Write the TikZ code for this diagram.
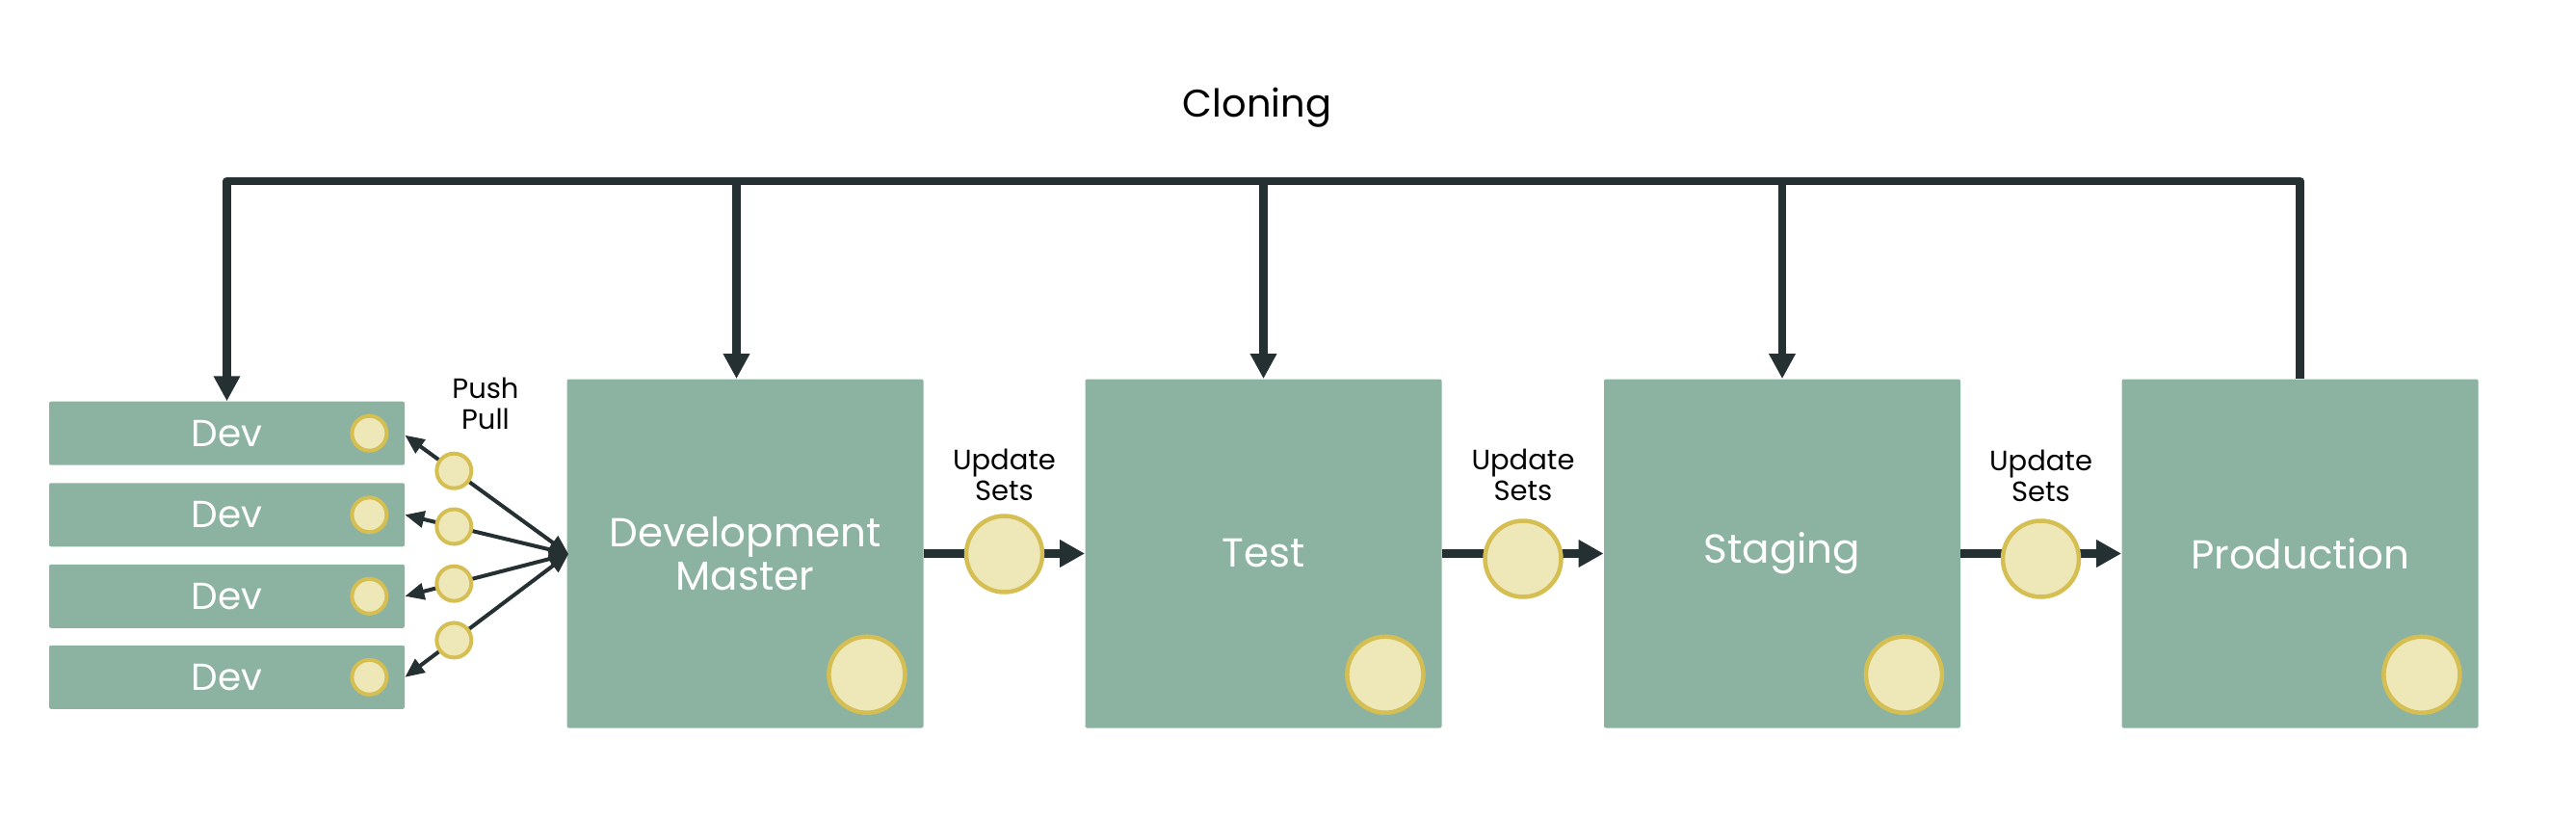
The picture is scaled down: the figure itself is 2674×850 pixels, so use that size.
\documentclass[tikz,border=0pt]{standalone}
\usepackage{fontspec}
\setmainfont{Poppins}
\usetikzlibrary{arrows.meta}
\definecolor{boxgreen}{RGB}{140,179,162}
\definecolor{darkc}{RGB}{37,48,51}
\definecolor{circfill}{RGB}{238,231,183}
\definecolor{circborder}{RGB}{213,190,82}
\tikzset{
 clone/.style={draw=darkc, line width=4.25pt, line join=round},
 clonearrow/.style={clone, -{Triangle[length=13pt,width=13pt]}},
 flow/.style={draw=darkc, line width=4.25pt, -{Triangle[length=13pt,width=13.5pt]}},
 pparrow/.style={draw=darkc, line width=2pt, {Triangle[length=10pt,width=8.5pt]}-{Triangle[length=10pt,width=8.5pt]}},
 mainbox/.style={rectangle, rounded corners=1pt, fill=boxgreen, minimum width=185pt, minimum height=181pt, inner sep=0pt, text=white, align=center, font=\fontsize{21}{22.5}\selectfont},
 devbox/.style={rectangle, rounded corners=1pt, fill=boxgreen, minimum width=184.5pt, minimum height=33pt, inner sep=0pt, text=white, font=\fontsize{19.5}{22}\selectfont},
 smallcirc/.style={circle, draw=circborder, fill=circfill, line width=2pt, minimum size=18pt, inner sep=0pt},
 bigcirc/.style={circle, draw=circborder, fill=circfill, line width=2.25pt, minimum size=39.5pt, inner sep=0pt},
 lbl/.style={text=black, align=center, inner sep=0pt, font=\fontsize{14.5}{16}\selectfont},
}
\begin{document}
\begin{tikzpicture}[x=0.5pt,y=-0.5pt]
\useasboundingbox (0,0) rectangle (2674,850);

% main boxes
\node[mainbox] (dm) at (773.5,574.5) {Development\\Master};
\node[mainbox] (test) at (1311.5,574.5) {Test};
\node[mainbox] (stag) at (1850,574.5) {Staging};
\node[mainbox] (prod) at (2387.5,574.5) {Production};

% dev boxes
\node[devbox] (dev1) at (235.5,449.7) {Dev};
\node[devbox] (dev2) at (235.5,534.3) {Dev};
\node[devbox] (dev3) at (235.5,618.8) {Dev};
\node[devbox] (dev4) at (235.5,702.8) {Dev};

% labels
\node[lbl, font=\fontsize{20}{22}\selectfont] (clon) at (1305,112) {Cloning};
\node[lbl] (pplbl) at (504,419) {Push\\Pull};

% cloning lines
\coordinate (bar) at (0,188);
\draw[clonearrow] (prod.north) -- (prod.north |- bar) -- (dev1.north |- bar) -- (dev1.north);
\draw[clonearrow] ([xshift=-4.5pt]dm.north |- bar) -- ([xshift=-4.5pt]dm.north);
\draw[clonearrow] (test.north |- bar) -- (test.north);
\draw[clonearrow] (stag.north |- bar) -- (stag.north);

% flow arrows
\draw[flow] (dm.east) -- (test.west);
\draw[flow] (test.east) -- (stag.west);
\draw[flow] (stag.east) -- (prod.west);

% update set circles and labels
\node[bigcirc] (uc1) at (1042.5,575) {};
\node[bigcirc] (uc2) at (1581,580) {};
\node[bigcirc] (uc3) at (2118.5,580) {};
\node[lbl] (ul1) at (1042.5,492.5) {Update\\Sets};
\node[lbl] (ul2) at (1581,492.5) {Update\\Sets};
\node[lbl] (ul3) at (2118.5,494) {Update\\Sets};

% circles in main boxes
\node[bigcirc] (cdm) at ([xshift=-29.5pt,yshift=27.85pt]dm.south east) {};
\node[bigcirc] (ctest) at ([xshift=-29.5pt,yshift=27.85pt]test.south east) {};
\node[bigcirc] (cstag) at ([xshift=-29.5pt,yshift=27.85pt]stag.south east) {};
\node[bigcirc] (cprod) at ([xshift=-29.5pt,yshift=27.85pt]prod.south east) {};

% circles in dev boxes
\node[smallcirc] (cd1) at ([xshift=-18.5pt]dev1.east) {};
\node[smallcirc] (cd2) at ([xshift=-18.5pt]dev2.east) {};
\node[smallcirc] (cd3) at ([xshift=-18.5pt]dev3.east) {};
\node[smallcirc] (cd4) at ([xshift=-18.5pt]dev4.east) {};

% push / pull
\coordinate (pp) at ([xshift=1pt,yshift=-0.25pt]dm.west);
\draw[pparrow] (pp) -- ([yshift=-1pt]dev1.east) node[smallcirc, pos=0.7] (pc1) {};
\draw[pparrow] (pp) -- (dev2.east) node[smallcirc, pos=0.7] (pc2) {};
\draw[pparrow] (pp) -- (dev3.east) node[smallcirc, pos=0.7] (pc3) {};
\draw[pparrow] (pp) -- (dev4.east) node[smallcirc, pos=0.7] (pc4) {};
\end{tikzpicture}
\end{document}
